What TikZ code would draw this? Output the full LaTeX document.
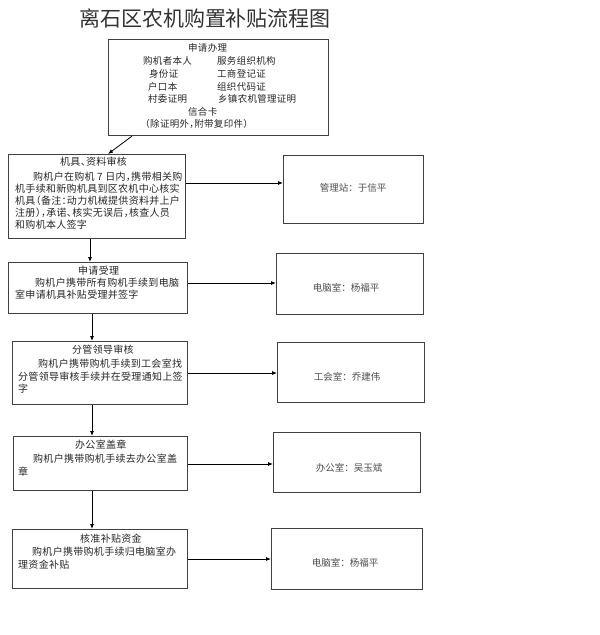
\documentclass[tikz,border=0pt]{standalone}
\usepackage{fontspec}
\newfontfamily\cjk[LetterSpace=3,RawFeature=+halt]{Noto Sans CJK SC}
\newfontfamily\cjkr{Noto Sans CJK SC}
\usetikzlibrary{arrows.meta}
\begin{document}
\begin{tikzpicture}[x=1pt,y=-1pt,
  box/.style={draw=black!75,line width=1.1pt,anchor=north west,inner sep=0pt},
  txt/.style={anchor=west,inner sep=0pt,font=\cjk\fontsize{10}{12}\selectfont,text=black!85},
  hd/.style={anchor=west,inner sep=0pt,font=\cjk\fontsize{9.5}{12}\selectfont,text=black!85},
  rt/.style={anchor=center,inner sep=0pt,font=\cjkr\fontsize{9.5}{12}\selectfont,text=black!70},
  arr/.style={-{Latex[length=5pt,width=4pt]},line width=0.8pt,black}]
\useasboundingbox (0,0) rectangle (600,635);

% title
\node[anchor=center,inner sep=0pt,font=\cjkr\fontsize{21}{24}\selectfont,text=black!80] (title) at (205,18) {离石区农机购置补贴流程图};

% boxes
\node[box,minimum width=220pt,minimum height=96pt] (b1) at (108,39) {};
\node[box,minimum width=177pt,minimum height=84pt] (b2) at (8,154) {};
\node[box,minimum width=140pt,minimum height=68pt] (r1) at (283,155) {};
\node[box,minimum width=179pt,minimum height=51pt] (b3) at (8,262) {};
\node[box,minimum width=147pt,minimum height=61pt] (r2) at (276,253) {};
\node[box,minimum width=175pt,minimum height=63pt] (b4) at (12,341) {};
\node[box,minimum width=147pt,minimum height=60pt] (r3) at (277,342) {};
\node[box,minimum width=174pt,minimum height=54pt] (b5) at (13,436) {};
\node[box,minimum width=147pt,minimum height=60pt] (r4) at (273,432) {};
\node[box,minimum width=175pt,minimum height=59pt] (b6) at (12,529) {};
\node[box,minimum width=151pt,minimum height=61pt] (r5) at (271,528) {};

% box 1 text
\node[hd] (a1) at (188,48) {申请办理};
\node[hd] (a2) at (143,61) {购机者本人};
\node[hd] (a3) at (217,61) {服务组织机构};
\node[hd] (a4) at (149,74) {身份证};
\node[hd] (a5) at (217,74) {工商登记证};
\node[hd] (a6) at (148,87) {户口本};
\node[hd] (a7) at (217,87) {组织代码证};
\node[hd] (a8) at (148,99) {村委证明};
\node[hd] (a9) at (218,99) {乡镇农机管理证明};
\node[hd] (a10) at (188,112) {信合卡};
\node[hd] (a11) at (145,124) {（除证明外，附带复印件）};

% box 2 text
\node[txt] (c1) at (60,162) {机具、资料审核};
\node[txt] (c2) at (33,177) {购机户在购机 7 日内，携带相关购};
\node[txt] (c3) at (15,189) {机手续和新购机具到区农机中心核实};
\node[txt] (c4) at (15,201) {机具（备注：动力机械提供资料并上户};
\node[txt] (c5) at (15,213) {注册），承诺、核实无误后，核查人员};
\node[txt] (c6) at (15,225) {和购机本人签字};

% box 3 text
\node[txt] (d1) at (78,271) {申请受理};
\node[txt] (d2) at (35,283) {购机户携带所有购机手续到电脑};
\node[txt] (d3) at (15,295) {室申请机具补贴受理并签字};

% box 4 text
\node[txt] (e1) at (72,350) {分管领导审核};
\node[txt] (e2) at (38,364) {购机户携带购机手续到工会室找};
\node[txt] (e3) at (18,377) {分管领导审核手续并在受理通知上签};
\node[txt] (e4) at (18,389) {字};

% box 5 text
\node[txt] (f1) at (75,445) {办公室盖章};
\node[txt] (f2) at (33,459) {购机户携带购机手续去办公室盖};
\node[txt] (f3) at (18,472) {章};

% box 6 text
\node[txt] (g1) at (80,539) {核准补贴资金};
\node[txt] (g2) at (32,552) {购机户携带购机手续归电脑室办};
\node[txt] (g3) at (18,565) {理资金补贴};

% right box texts
\node[rt] (s1) at (353,188) {管理站：于信平};
\node[rt] (s2) at (346,288) {电脑室：杨福平};
\node[rt] (s3) at (347,377) {工会室：乔建伟};
\node[rt] (s4) at (349,468) {办公室：吴玉斌};
\node[rt] (s5) at (345,563) {电脑室：杨福平};

% connectors
\draw[arr] (b1.south -| 132,0) -- (b2.north -| 108,0);
\draw[arr] (b2.south -| 90,0) -- (b3.north -| 90,0);
\draw[arr] (b3.south -| 92,0) -- (b4.north -| 92,0);
\draw[arr] (b4.south -| 92,0) -- (b5.north -| 92,0);
\draw[arr] (b5.south -| 92,0) -- (b6.north -| 92,0);
\draw[arr] (b2.east |- 0,183) -- (r1.west |- 0,183);
\draw[arr] (b3.east |- 0,283) -- (r2.west |- 0,283);
\draw[arr] (b4.east |- 0,373) -- (r3.west |- 0,373);
\draw[arr] (b5.east |- 0,464) -- (r4.west |- 0,464);
\draw[arr] (b6.east |- 0,559) -- (r5.west |- 0,559);
\end{tikzpicture}
\end{document}
